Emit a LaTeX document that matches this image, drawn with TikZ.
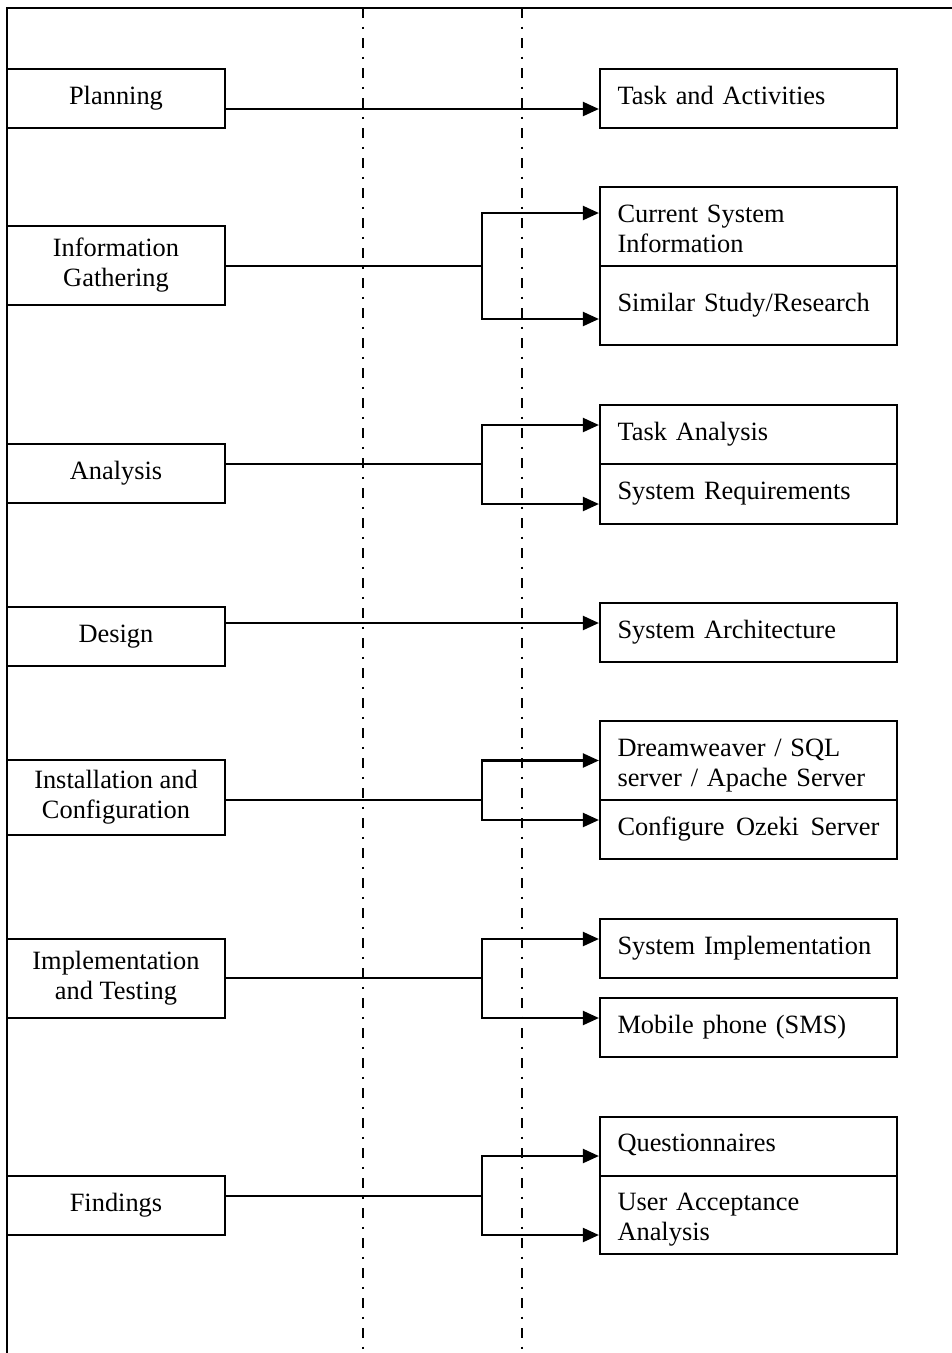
\documentclass[tikz,border=0pt]{standalone}
\usepackage{fontspec}
\setmainfont{Liberation Serif}
\usetikzlibrary{arrows.meta,positioning}

\begin{document}
\begin{tikzpicture}[
    x=1pt, y=-1pt,
    every node/.style={font=\fontsize{26.4}{30}\selectfont},
    phase/.style={rectangle, draw, line width=2.2pt, minimum width=218pt, inner sep=2pt, align=center},
    item/.style={rectangle, draw, line width=2.2pt, text width=262pt, inner xsep=17.5pt, inner ysep=2pt, align=left},
    oneline/.style={item, text depth=7pt},
    twoline/.style={item, text depth=26pt},
    divider/.style={line width=2.8pt, dash pattern=on 10pt off 8.5pt on 2pt off 9.5pt},
    link/.style={line width=2.2pt},
    arrow/.style={link, -{Triangle[length=16pt,width=14pt]}}
]
    \useasboundingbox (0,0) rectangle (952,1353);

    % frame and column guides
    \draw[line width=2.4pt] (952,8) -- (7,8) -- (7,1353);
    \draw[divider] (363,8) -- (363,1353);
    \draw[divider] (522,8) -- (522,1353);

    % phases
    \node[phase, minimum height=59pt] (plan) at (116,98.5) {Planning};
    \node[phase, minimum height=79pt] (info) at (116,265.5) {Information\\Gathering};
    \node[phase, minimum height=59pt] (anal) at (116,473.5) {Analysis};
    \node[phase, minimum height=59pt] (design) at (116,636.5) {Design};
    \node[phase, minimum height=75pt] (inst) at (116,797.5) {Installation and\\Configuration};
    \node[phase, minimum height=79pt] (impl) at (116,978.5) {Implementation\\and Testing};
    \node[phase, minimum height=59pt] (find) at (116,1205.5) {Findings};

    % outputs
    \node[oneline, minimum height=59pt] (task) at (748.5,98.5) {Task and Activities};
    \node[twoline, minimum height=79pt] (cur) at (748.5,226.5) {Current System\\Information};
    \node[item, minimum height=79pt] (sim) at (748.5,305.5) {Similar Study/Research};
    \node[oneline, minimum height=59pt] (tan) at (748.5,434.5) {Task Analysis};
    \node[oneline, minimum height=60pt] (sreq) at (748.5,494) {System Requirements};
    \node[oneline, minimum height=59pt] (arch) at (748.5,632.5) {System Architecture};
    \node[twoline, minimum height=79pt] (dream) at (748.5,760.5) {Dreamweaver / SQL\\server / Apache Server};
    \node[oneline, minimum height=59pt] (ozeki) at (748.5,829.5) {Configure\kern.435em Ozeki\kern.435em Server};
    \node[oneline, minimum height=59pt] (simpl) at (748.5,948.5) {System Implementation};
    \node[oneline, minimum height=59pt] (mob) at (748.5,1027.5) {Mobile phone (SMS)};
    \node[oneline, minimum height=59pt] (quest) at (748.5,1146.5) {Questionnaires};
    \node[twoline, minimum height=78pt] (uacc) at (748.5,1215) {User Acceptance\\Analysis};

    % branch points
    \coordinate (j2) at (482,266);
    \coordinate (j3) at (482,464);
    \coordinate (j5) at (482,800);
    \coordinate (j6) at (482,978);
    \coordinate (j7) at (482,1196);

    \draw[arrow] ([yshift=-10.5pt]plan.east) -- ([yshift=-10.5pt]task.west);

    \draw[link] ([yshift=-0.5pt]info.east) -- (j2);
    \draw[arrow] (j2) |- ([yshift=13.5pt]cur.west);
    \draw[arrow] (j2) |- ([yshift=-13.5pt]sim.west);

    \draw[link] ([yshift=9.5pt]anal.east) -- (j3);
    \draw[arrow] (j3) |- ([yshift=9.5pt]tan.west);
    \draw[arrow] (j3) |- ([yshift=-10pt]sreq.west);

    \draw[arrow] ([yshift=13.5pt]design.east) -- ([yshift=9.5pt]arch.west);

    \draw[link] ([yshift=-2.5pt]inst.east) -- (j5);
    \draw[arrow] (j5) |- (dream.west);
    \draw[arrow] (j5) |- ([yshift=9.5pt]ozeki.west);

    \draw[link] ([yshift=0.5pt]impl.east) -- (j6);
    \draw[arrow] (j6) |- ([yshift=9.5pt]simpl.west);
    \draw[arrow] (j6) |- ([yshift=9.5pt]mob.west);

    \draw[link] ([yshift=9.5pt]find.east) -- (j7);
    \draw[arrow] (j7) |- ([yshift=-9.5pt]quest.west);
    \draw[arrow] (j7) |- ([yshift=-20pt]uacc.west);
\end{tikzpicture}
\end{document}
